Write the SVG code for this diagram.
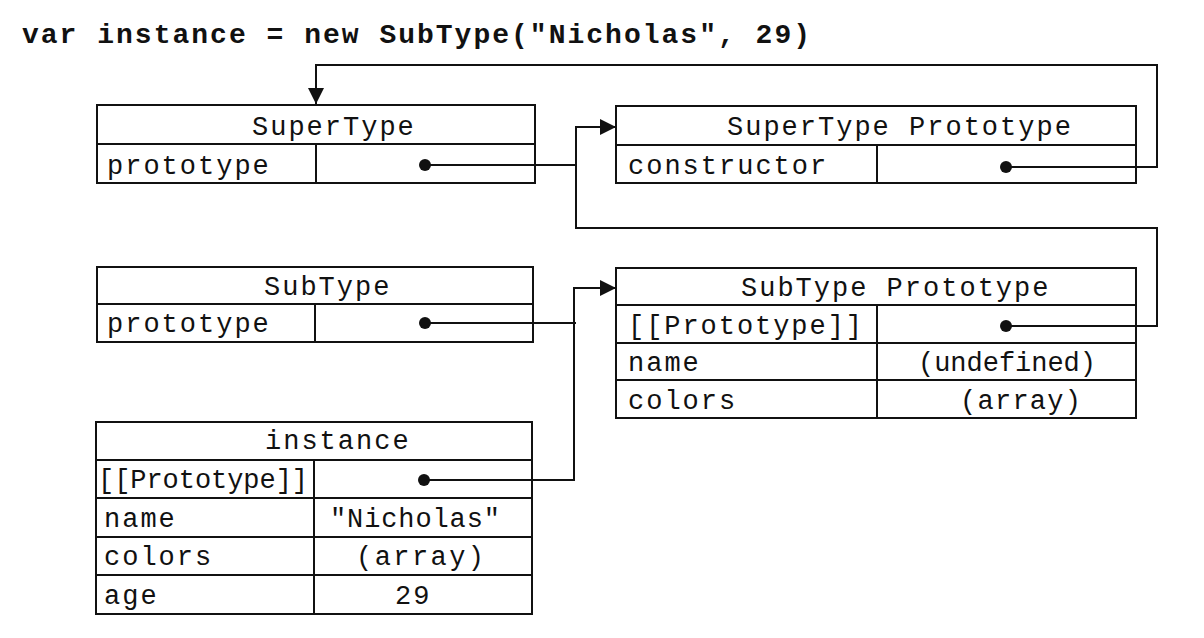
<svg xmlns="http://www.w3.org/2000/svg" width="1204" height="638" viewBox="0 0 1204 638">
<style>
.box{fill:none;stroke:#111;stroke-width:2}
.ln{stroke:#111;stroke-width:2;fill:none}
.t{font-family:"Liberation Mono","Courier New",monospace;font-size:27px;letter-spacing:2px;fill:#111}
.title{font-family:"Liberation Mono","Courier New",monospace;font-size:28px;font-weight:bold;letter-spacing:2px;fill:#111}
.dot{fill:#111}
</style>
<defs>
<marker id="arr" markerUnits="userSpaceOnUse" markerWidth="18" markerHeight="18" refX="16" refY="8" orient="auto">
<path d="M0,0 L16,8 L0,16 Z" fill="#111"/>
</marker>
</defs>
<rect width="1204" height="638" fill="#fff"/>
<text class="title" x="22" y="43" textLength="790">var instance = new SubType("Nicholas", 29)</text>

<g id="supertype">
<rect class="box" x="97" y="105" width="438" height="78"/>
<line class="ln" x1="97" y1="144" x2="535" y2="144"/>
<line class="ln" x1="316" y1="144" x2="316" y2="183"/>
<text class="t" x="252" y="135">SuperType</text>
<text class="t" x="107" y="174">prototype</text>
<circle class="dot" cx="425" cy="165" r="6"/>
</g>

<g id="supertype-prototype">
<rect class="box" x="616" y="106" width="520" height="77"/>
<line class="ln" x1="616" y1="145" x2="1136" y2="145"/>
<line class="ln" x1="877" y1="145" x2="877" y2="183"/>
<text class="t" x="727" y="135">SuperType Prototype</text>
<text class="t" x="628" y="174">constructor</text>
<circle class="dot" cx="1006" cy="167" r="6"/>
</g>

<g id="subtype">
<rect class="box" x="97" y="267" width="436" height="75"/>
<line class="ln" x1="97" y1="304" x2="533" y2="304"/>
<line class="ln" x1="315" y1="304" x2="315" y2="342"/>
<text class="t" x="264" y="295">SubType</text>
<text class="t" x="107" y="332">prototype</text>
<circle class="dot" cx="425" cy="323" r="6"/>
</g>

<g id="subtype-prototype">
<rect class="box" x="616" y="268" width="520" height="150"/>
<line class="ln" x1="616" y1="305" x2="1136" y2="305"/>
<line class="ln" x1="616" y1="343" x2="1136" y2="343"/>
<line class="ln" x1="616" y1="380" x2="1136" y2="380"/>
<line class="ln" x1="877" y1="305" x2="877" y2="418"/>
<text class="t" x="741" y="296">SubType Prototype</text>
<text class="t" x="628" y="334" textLength="236">[[Prototype]]</text>
<circle class="dot" cx="1006" cy="326" r="6"/>
<text class="t" x="628" y="371">name</text>
<text class="t" x="918" y="371" textLength="180">(undefined)</text>
<text class="t" x="628" y="409">colors</text>
<text class="t" x="960" y="409" textLength="123">(array)</text>
</g>

<g id="instance">
<rect class="box" x="96" y="422" width="436" height="192"/>
<line class="ln" x1="96" y1="460" x2="532" y2="460"/>
<line class="ln" x1="96" y1="498" x2="532" y2="498"/>
<line class="ln" x1="96" y1="537" x2="532" y2="537"/>
<line class="ln" x1="96" y1="575" x2="532" y2="575"/>
<line class="ln" x1="314" y1="460" x2="314" y2="614"/>
<text class="t" x="265" y="449">instance</text>
<text class="t" x="98" y="488" textLength="212">[[Prototype]]</text>
<circle class="dot" cx="424" cy="480" r="6"/>
<text class="t" x="104" y="527">name</text>
<text class="t" x="330" y="527" textLength="172">"Nicholas"</text>
<text class="t" x="104" y="565">colors</text>
<text class="t" x="356" y="565" textLength="130">(array)</text>
<text class="t" x="104" y="604">age</text>
<text class="t" x="395" y="604">29</text>
</g>

<g id="connectors">
<path class="ln" d="M1006,167 H1157 V65 H316 V104" marker-end="url(#arr)"/>
<path class="ln" d="M425,165 H576"/>
<path class="ln" d="M1006,326 H1157 V228 H576 V127 H616" marker-end="url(#arr)"/>
<path class="ln" d="M425,323 H576"/>
<path class="ln" d="M424,480 H574 V288 H616" marker-end="url(#arr)"/>
</g>
</svg>
